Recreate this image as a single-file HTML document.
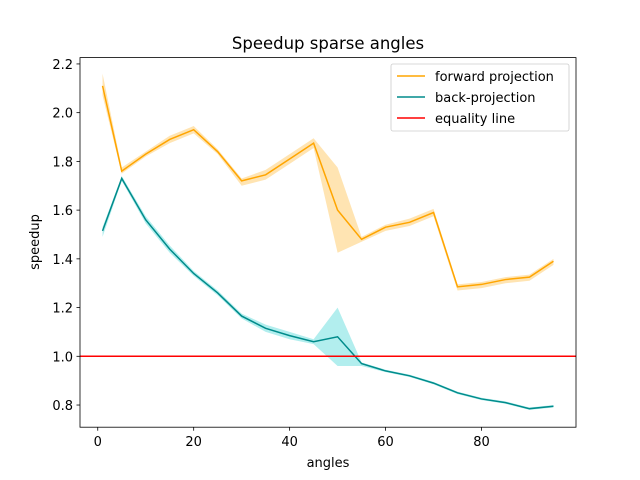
<!DOCTYPE html>
<html><head><meta charset="utf-8"><style>body{margin:0;background:#fff}svg{display:block;font-family:"DejaVu Sans","Liberation Sans",sans-serif}</style></head>
<body>
<svg id="c" width="640" height="480"></svg>
<script>
const angles=[1,5,10,15,20,25,30,35,40,45,50,55,60,65,70,75,80,85,90,95];
const fwd=[2.11,1.76,1.83,1.89,1.93,1.84,1.72,1.745,1.81,1.875,1.60,1.48,1.53,1.55,1.59,1.285,1.295,1.315,1.325,1.39];
const fwdLo=[2.07,1.75,1.82,1.875,1.915,1.83,1.70,1.725,1.79,1.855,1.425,1.47,1.515,1.535,1.575,1.27,1.28,1.30,1.31,1.375];
const fwdHi=[2.16,1.775,1.84,1.905,1.945,1.85,1.73,1.765,1.83,1.895,1.775,1.49,1.54,1.565,1.605,1.295,1.305,1.325,1.335,1.40];
const back=[1.515,1.73,1.56,1.44,1.34,1.26,1.165,1.115,1.085,1.06,1.08,0.97,0.94,0.92,0.89,0.85,0.825,0.81,0.785,0.795];
const backLo=[1.49,1.72,1.545,1.425,1.33,1.25,1.155,1.10,1.07,1.05,0.96,0.96,0.935,0.915,0.885,0.845,0.82,0.805,0.78,0.79];
const backHi=[1.53,1.74,1.575,1.455,1.35,1.27,1.175,1.13,1.10,1.07,1.20,0.975,0.945,0.925,0.895,0.855,0.83,0.815,0.79,0.80];
const xTicks=[0,20,40,60,80];
const yTicks=[0.8,1.0,1.2,1.4,1.6,1.8,2.0,2.2];
const L=80,R=576,T=57.6,B=427.2,xmin=-3.7,xmax=99.7,ymin=0.709,ymax=2.226;
const X=v=>L+(v-xmin)/(xmax-xmin)*(R-L);
const Y=v=>B-(v-ymin)/(ymax-ymin)*(B-T);
const svg=document.getElementById('c');const NS='http://www.w3.org/2000/svg';
function mk(t,a,txt){const e=document.createElementNS(NS,t);for(const k in a)e.setAttribute(k,a[k]);if(txt!==undefined)e.textContent=txt;svg.appendChild(e);return e;}
function band(lo,hi,col,name){let d='M'+angles.map((a,i)=>X(a)+','+Y(hi[i])).join('L');d+='L'+angles.map((a,i)=>X(a)+','+Y(lo[i])).reverse().join('L')+'Z';const e=mk('path',{d:d,fill:col,stroke:'none'});

}
function line(v,col,name){const e=mk('polyline',{points:angles.map((a,i)=>X(a)+','+Y(v[i])).join(' '),fill:'none',stroke:col,'stroke-width':1.5});

}
band(fwdLo,fwdHi,'rgba(255,165,0,0.3)','forward-band');
band(backLo,backHi,'rgba(0,200,200,0.3)','back-band');
line(fwd,'#ffa500','forward-line');
line(back,'#008b8b','back-line');
const eq=mk('line',{x1:L,x2:R,y1:Y(1),y2:Y(1),stroke:'#ff0000','stroke-width':1.5});


const fr=mk('rect',{x:L,y:T,width:R-L,height:B-T,fill:'none',stroke:'#000','stroke-width':0.8});


xTicks.forEach(t=>{mk('line',{x1:X(t),x2:X(t),y1:B,y2:B+3.5,stroke:'#000','stroke-width':0.8});const e=mk('text',{x:X(t),y:B+19,'text-anchor':'middle','font-size':13},t);

});
yTicks.forEach(t=>{mk('line',{x1:L-3.5,x2:L,y1:Y(t),y2:Y(t),stroke:'#000','stroke-width':0.8});const e=mk('text',{x:L-7,y:Y(t)+5,'text-anchor':'end','font-size':13},t.toFixed(1));

});
</script>
<svg style="position:absolute;left:0;top:0" width="640" height="480">
<text x="328" y="49" text-anchor="middle" font-size="16.5">Speedup sparse angles</text>
<text x="328" y="467" text-anchor="middle" font-size="13">angles</text>
<text transform="translate(39,242) rotate(-90)" text-anchor="middle" font-size="13">speedup</text>
<g>
<rect x="391" y="64" width="178" height="67" rx="2" fill="#fff" fill-opacity="0.8" stroke="#ccc" stroke-width="0.8"/>
<line x1="397" x2="425" y1="76" y2="76" stroke="#ffa500" stroke-width="1.5"/><text x="435" y="81" font-size="13">forward projection</text>
<line x1="397" x2="425" y1="97" y2="97" stroke="#008b8b" stroke-width="1.5"/><text x="435" y="102" font-size="13">back-projection</text>
<line x1="397" x2="425" y1="118" y2="118" stroke="#ff0000" stroke-width="1.5"/><text x="435" y="123" font-size="13">equality line</text>
</g>
</svg>
</body></html>
